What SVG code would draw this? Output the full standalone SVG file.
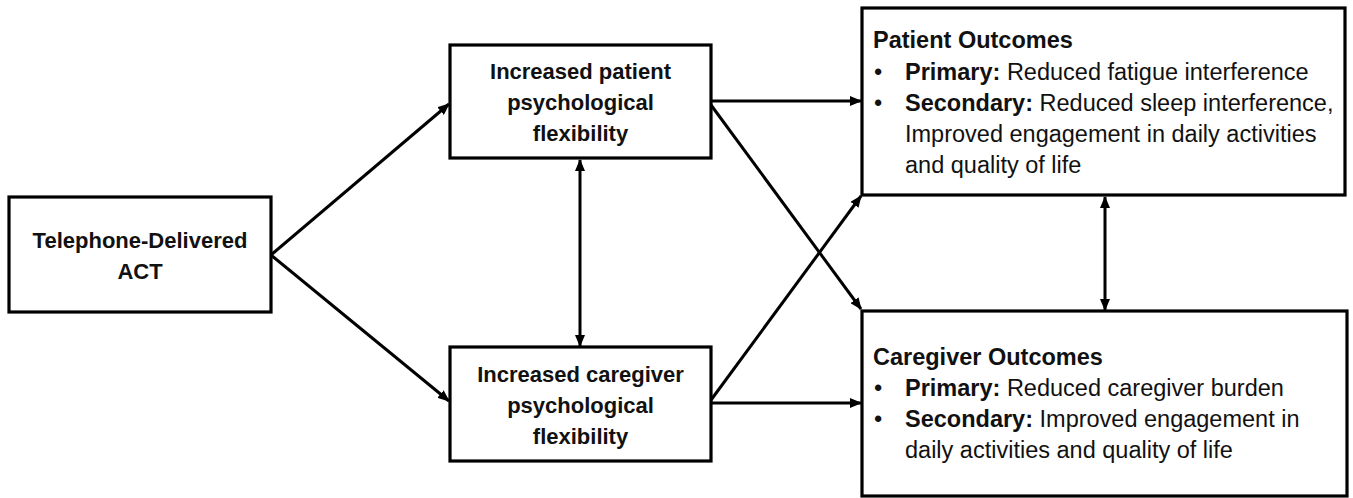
<svg xmlns="http://www.w3.org/2000/svg" width="1353" height="498" viewBox="0 0 1353 498">
<defs>
<style>
.box{fill:#fff;stroke:#000;stroke-width:3.2}
.conn{stroke:#000;stroke-width:3;fill:none}
.nt{font-family:"Liberation Sans",Arial,sans-serif;font-weight:bold;font-size:22px;fill:#111;text-anchor:middle}
.ot{font-family:"Liberation Sans",Arial,sans-serif;font-size:23.5px;fill:#111}
.b{font-weight:bold}
</style>
<marker id="ah" markerUnits="userSpaceOnUse" markerWidth="12" markerHeight="10" refX="11" refY="5" orient="auto-start-reverse" viewBox="0 0 12 10">
<path d="M0,0 L12,5 L0,10 z" fill="#000"/>
</marker>
</defs>
<rect width="1353" height="498" fill="#fff"/>
<g id="connectors">
<line class="conn" x1="271" y1="255" x2="449" y2="104" marker-end="url(#ah)"/>
<line class="conn" x1="271" y1="255" x2="449" y2="401" marker-end="url(#ah)"/>
<line class="conn" x1="711" y1="101" x2="861" y2="101" marker-end="url(#ah)"/>
<line class="conn" x1="711" y1="403" x2="861" y2="403" marker-end="url(#ah)"/>
<line class="conn" x1="711" y1="105" x2="861" y2="309" marker-end="url(#ah)"/>
<line class="conn" x1="711" y1="400" x2="861" y2="196" marker-end="url(#ah)"/>
<line class="conn" x1="580" y1="160" x2="580" y2="346" marker-start="url(#ah)" marker-end="url(#ah)"/>
<line class="conn" x1="1105" y1="197" x2="1105" y2="310" marker-start="url(#ah)" marker-end="url(#ah)"/>
</g>
<g id="telephone">
<rect class="box" x="9" y="197" width="262" height="115"/>
<text class="nt" x="140" y="248">Telephone-Delivered</text>
<text class="nt" x="140" y="279">ACT</text>
</g>
<g id="patient-flex">
<rect class="box" x="450" y="45" width="261" height="113"/>
<text class="nt" x="580.5" y="79">Increased patient</text>
<text class="nt" x="580.5" y="110">psychological</text>
<text class="nt" x="580.5" y="141">flexibility</text>
</g>
<g id="caregiver-flex">
<rect class="box" x="450" y="347" width="261" height="114"/>
<text class="nt" x="580.5" y="382">Increased caregiver</text>
<text class="nt" x="580.5" y="413">psychological</text>
<text class="nt" x="580.5" y="444">flexibility</text>
</g>
<g id="patient-outcomes">
<rect class="box" x="862" y="8" width="483" height="187"/>
<text class="ot b" x="873" y="48">Patient Outcomes</text>
<text class="ot" x="874" y="80">•</text>
<text class="ot" x="905" y="80"><tspan class="b">Primary:</tspan> Reduced fatigue interference</text>
<text class="ot" x="874" y="111">•</text>
<text class="ot" x="905" y="111"><tspan class="b">Secondary:</tspan> Reduced sleep interference,</text>
<text class="ot" x="905" y="142">Improved engagement in daily activities</text>
<text class="ot" x="905" y="173">and quality of life</text>
</g>
<g id="caregiver-outcomes">
<rect class="box" x="862" y="311" width="485" height="185"/>
<text class="ot b" x="873" y="365">Caregiver Outcomes</text>
<text class="ot" x="874" y="396">•</text>
<text class="ot" x="905" y="396"><tspan class="b">Primary:</tspan> Reduced caregiver burden</text>
<text class="ot" x="874" y="427">•</text>
<text class="ot" x="905" y="427"><tspan class="b">Secondary:</tspan> Improved engagement in</text>
<text class="ot" x="905" y="458">daily activities and quality of life</text>
</g>
</svg>
